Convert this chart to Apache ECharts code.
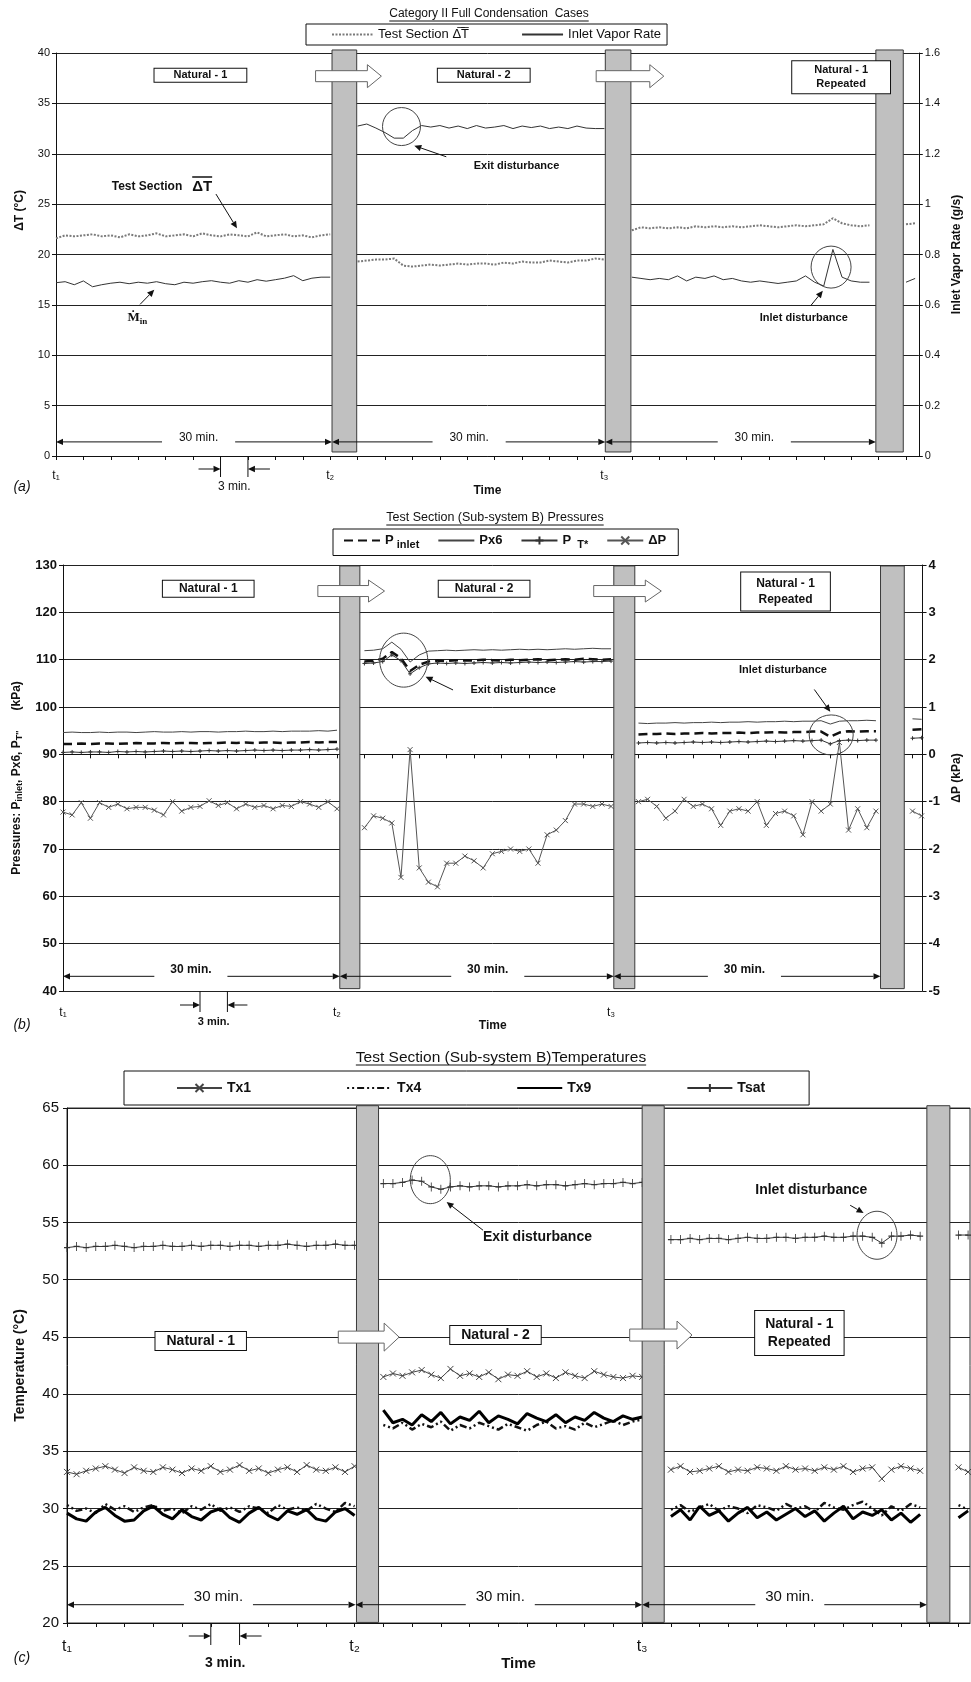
<!DOCTYPE html>
<html>
<head>
<meta charset="utf-8">
<title>Category II Full Condensation Cases</title>
<script src="https://cdn.jsdelivr.net/npm/echarts@6/dist/echarts.min.js"></script>
<style>
  html, body { margin: 0; padding: 0; background: #fff; }
  #chart { width: 971px; height: 1682px; }
</style>
</head>
<body>
<div id="chart"></div>
<script>
// ---- data (minutes from t1, one reading per minute; segments split by the transitions) ----
const segStart = [0, 33, 63, 93];
const markMinutes = [0, 30, 60];
const markNames = ['t₁', 't₂', 't₃'];

// gray transition bars [start, end] in minutes
const barsA = [[30.2, 32.9], [60.1, 62.9], [89.7, 92.7]];
const barsB = [[30.3, 32.5], [60.3, 62.6], [89.5, 92.1]];
const barsC = [[30.2, 32.5], [60.0, 62.3], [89.7, 92.1]];

// (a) test section dT (deg C) and inlet vapor rate (g/s)
const dTSegs = [
  [21.6,21.9,21.8,21.9,22.0,21.8,21.9,21.7,22.0,21.8,21.9,22.1,21.8,21.9,22.0,21.8,22.1,21.9,21.8,22.0,21.9,21.8,22.2,21.8,21.9,22.0,21.8,21.9,21.7,21.9,22.0],
  [19.3,19.4,19.5,19.5,19.6,18.9,18.8,18.9,19.0,18.9,19.0,19.1,19.0,19.1,19.1,19.0,19.2,19.1,19.3,19.2,19.2,19.4,19.3,19.2,19.4,19.4,19.6,19.5],
  [22.4,22.7,22.6,22.7,22.6,22.7,22.6,22.8,22.7,22.8,22.7,22.8,22.7,22.8,22.9,22.8,22.7,22.8,22.9,22.8,22.9,23.0,23.6,23.1,22.9,22.8,22.9],
  [23.0,23.1]
];
const vaporSegs = [
  [0.688,0.692,0.680,0.695,0.672,0.680,0.686,0.690,0.684,0.690,0.686,0.692,0.684,0.680,0.690,0.686,0.692,0.696,0.690,0.686,0.696,0.690,0.700,0.694,0.700,0.706,0.716,0.696,0.706,0.710,0.710],
  [1.310,1.318,1.302,1.284,1.262,1.262,1.292,1.312,1.306,1.312,1.302,1.310,1.300,1.312,1.302,1.306,1.312,1.300,1.310,1.304,1.310,1.300,1.306,1.300,1.310,1.302,1.300,1.300],
  [0.710,0.705,0.700,0.705,0.700,0.715,0.695,0.710,0.705,0.715,0.700,0.705,0.695,0.690,0.695,0.690,0.685,0.690,0.695,0.715,0.690,0.675,0.820,0.710,0.695,0.690,0.690],
  [0.690,0.705]
];

// (b) pressures (kPa) and dP (kPa)
const pInletSegs = [
  [92.2,92.2,92.3,92.2,92.3,92.3,92.2,92.3,92.4,92.3,92.3,92.4,92.3,92.4,92.4,92.3,92.4,92.4,92.5,92.4,92.5,92.4,92.5,92.5,92.4,92.5,92.5,92.6,92.5,92.6,92.6],
  [109.6,109.8,110.2,111.6,110.3,107.6,108.9,109.6,109.8,109.7,109.9,109.8,109.8,110.0,109.9,109.8,110.0,109.9,110.0,110.1,109.9,110.0,110.1,110.0,110.2,110.1,110.0,110.1],
  [94.2,94.3,94.3,94.4,94.3,94.4,94.4,94.5,94.4,94.5,94.5,94.6,94.5,94.6,94.6,94.7,94.6,94.7,94.7,94.8,94.8,93.7,94.6,94.9,94.8,94.9,94.9],
  [95.2,95.3]
];
const px6Segs = [
  [94.6,94.7,94.6,94.6,94.7,94.6,94.7,94.7,94.6,94.7,94.8,94.7,94.7,94.8,94.7,94.8,94.8,94.7,94.8,94.8,94.9,94.8,94.8,94.9,94.8,94.9,94.9,94.9,95.0,94.9,95.1],
  [111.9,112.0,112.3,113.7,112.2,109.5,111.0,111.8,111.9,112.0,111.9,112.0,112.1,112.0,112.1,112.0,112.1,112.2,112.1,112.2,112.1,112.2,112.3,112.2,112.3,112.4,112.3,112.3],
  [96.6,96.5,96.6,96.6,96.7,96.6,96.7,96.7,96.8,96.7,96.8,96.8,96.9,96.8,96.9,96.9,97.0,96.9,97.0,97.0,97.1,96.4,97.0,97.1,97.1,97.2,97.1],
  [97.5,97.4]
];
const pTSegs = [
  [90.4,90.5,90.4,90.5,90.5,90.4,90.6,90.5,90.6,90.5,90.6,90.7,90.6,90.7,90.6,90.7,90.8,90.7,90.8,90.7,90.8,90.9,90.8,90.9,90.8,90.9,90.9,91.0,90.9,91.0,91.1],
  [109.2,109.3,109.6,111.0,109.8,107.0,108.3,109.1,109.3,109.2,109.3,109.2,109.3,109.4,109.3,109.4,109.3,109.4,109.5,109.4,109.5,109.4,109.5,109.6,109.5,109.6,109.6,109.7],
  [92.4,92.5,92.4,92.5,92.4,92.5,92.6,92.5,92.6,92.5,92.6,92.7,92.6,92.7,92.8,92.7,92.8,92.9,92.8,92.9,93.0,92.2,92.9,93.0,92.9,93.0,93.0],
  [93.4,93.5]
];
const dPSegs = [
  [-1.22,-1.28,-1.02,-1.35,-1.02,-1.12,-1.05,-1.15,-1.12,-1.12,-1.18,-1.28,-1.00,-1.20,-1.12,-1.10,-0.98,-1.08,-1.02,-1.15,-1.05,-1.12,-1.08,-1.15,-1.08,-1.10,-1.00,-1.05,-1.12,-1.00,-1.15],
  [-1.55,-1.30,-1.35,-1.45,-2.60,0.10,-2.40,-2.70,-2.80,-2.30,-2.30,-2.15,-2.25,-2.40,-2.10,-2.05,-2.00,-2.05,-2.00,-2.30,-1.70,-1.60,-1.40,-1.05,-1.05,-1.10,-1.05,-1.10],
  [-1.00,-0.95,-1.10,-1.35,-1.20,-0.95,-1.10,-1.05,-1.15,-1.50,-1.20,-1.15,-1.20,-1.00,-1.50,-1.25,-1.20,-1.30,-1.70,-1.00,-1.20,-1.05,0.25,-1.60,-1.15,-1.55,-1.20],
  [-1.20,-1.30]
];

// (c) temperatures (deg C)
const tx1Segs = [
  [33.2,33.0,33.3,33.5,33.7,33.4,33.1,33.6,33.3,33.2,33.6,33.4,33.1,33.5,33.3,33.7,33.2,33.4,33.8,33.3,33.5,33.1,33.4,33.6,33.2,33.8,33.4,33.3,33.6,33.2,33.7],
  [41.5,41.8,41.6,41.9,42.1,41.7,41.4,42.2,41.6,41.8,41.5,41.9,41.3,41.7,41.6,42.0,41.5,41.8,41.4,41.9,41.6,41.4,42.0,41.7,41.5,41.4,41.6,41.5],
  [33.4,33.7,33.2,33.3,33.5,33.7,33.2,33.4,33.3,33.6,33.5,33.3,33.7,33.4,33.5,33.3,33.6,33.4,33.7,33.2,33.5,33.6,32.6,33.4,33.7,33.5,33.3],
  [33.6,33.2]
];
const tx4Segs = [
  [30.3,29.8,30.0,29.6,30.4,29.9,30.2,29.7,30.1,30.3,29.8,30.0,29.6,30.2,29.9,30.4,29.8,30.1,29.7,30.2,30.0,29.6,30.3,29.9,30.1,29.8,30.4,30.0,29.7,30.5,30.2],
  [37.3,37.0,37.5,36.9,37.4,37.1,37.6,36.8,37.3,37.0,37.5,37.2,36.9,37.4,37.1,36.8,37.3,37.6,37.0,37.2,36.9,37.5,37.1,37.4,37.7,37.3,37.6,37.8],
  [29.9,30.3,29.7,30.1,30.4,29.8,30.2,30.0,29.6,30.3,30.1,29.8,30.4,30.0,30.2,29.7,30.5,30.1,29.9,30.3,30.6,30.0,29.4,30.2,29.8,30.4,30.1],
  [30.3,29.9]
];
const tx9Segs = [
  [29.6,29.1,28.9,29.7,30.1,29.4,28.9,29.0,29.8,30.2,29.5,29.1,29.9,29.3,29.0,29.7,30.0,29.2,28.8,29.6,30.1,29.4,29.0,29.8,29.5,29.9,29.1,28.9,29.7,30.0,29.4],
  [38.6,37.5,37.8,37.3,38.2,37.6,38.4,37.4,38.0,37.7,38.5,37.5,38.1,37.8,37.4,38.3,37.9,37.6,38.2,37.5,38.0,37.7,38.4,37.9,37.6,38.1,37.8,38.0],
  [29.3,29.9,29.0,30.2,29.4,29.8,28.9,29.6,30.1,29.2,29.7,29.0,29.5,30.0,29.3,29.8,28.9,29.6,30.2,29.1,29.7,29.4,29.9,29.0,29.6,28.8,29.5],
  [29.2,29.8]
];
const tsatSegs = [
  [52.8,52.9,52.8,52.9,52.9,53.0,52.9,52.8,52.9,52.9,53.0,52.9,52.9,53.0,52.9,53.0,53.0,52.9,53.0,53.0,52.9,53.0,53.0,53.1,53.0,52.9,53.0,53.0,53.1,53.0,53.0],
  [58.4,58.4,58.5,58.7,58.6,58.1,57.9,58.1,58.2,58.1,58.2,58.2,58.1,58.2,58.2,58.3,58.2,58.3,58.3,58.2,58.3,58.4,58.3,58.4,58.4,58.5,58.4,58.5],
  [53.5,53.5,53.6,53.5,53.6,53.6,53.5,53.6,53.7,53.6,53.6,53.7,53.7,53.6,53.7,53.7,53.8,53.7,53.7,53.8,53.8,53.7,53.2,53.8,53.8,53.9,53.8],
  [53.9,53.9]
];

// ---- helpers ----
const FN = "'Liberation Sans Narrow', 'Liberation Sans', Arial, sans-serif";
const FS = "'Liberation Sans', Arial, Helvetica, sans-serif";
const INK = '#111';
const CROSS = 'path://M0,0L10,10M10,0L0,10';
const PLUS = 'path://M5,0L5,10M0,5L10,5';

// join segments, leaving a break under each transition bar
function build(segs) {
  const out = [];
  segs.forEach((s, k) => {
    if (k) out.push([segStart[k] - 1, null]);
    s.forEach((v, i) => out.push([segStart[k] + i, v]));
  });
  return out;
}

function timeAxis(gi, max, fontSize, margin, nameGap, nameSize) {
  return {
    type: 'value', gridIndex: gi, min: 0, max: max, interval: 3,
    axisLine: { lineStyle: { color: INK, width: 1 } },
    axisTick: { length: 4, lineStyle: { color: INK } },
    splitLine: { show: false },
    axisLabel: {
      showMaxLabel: false, margin: margin, color: INK, fontSize: fontSize, fontFamily: FS,
      formatter: (v) => { const k = markMinutes.indexOf(v); return k < 0 ? '' : markNames[k]; }
    },
    name: 'Time', nameLocation: 'middle', nameGap: nameGap,
    nameTextStyle: { color: INK, fontWeight: 'bold', fontSize: nameSize, fontFamily: FS }
  };
}

function valueAxis(gi, pos, min, max, interval, label, name, nameGap, split) {
  return {
    type: 'value', gridIndex: gi, position: pos, min: min, max: max, interval: interval,
    axisLine: { show: true, lineStyle: { color: INK, width: 1 } },
    axisTick: { show: true, length: 4, lineStyle: { color: INK } },
    axisLabel: Object.assign({ color: INK, fontFamily: FS, margin: 6 }, label),
    splitLine: { show: split, lineStyle: { color: '#222', width: 1 } },
    name: name, nameLocation: 'middle', nameGap: nameGap, nameRotate: 90,
    nameTextStyle: { color: INK, fontWeight: 'bold', fontSize: 12, fontFamily: FS }
  };
}

function barSeries(xi, yi, bars, lo, hi) {
  return {
    type: 'custom', xAxisIndex: xi, yAxisIndex: yi, z: 10, clip: false, silent: true,
    data: bars.map((b) => [b[0], b[1], lo, hi]),
    encode: { x: [0, 1], y: [2, 3] },
    renderItem: (params, api) => {
      const p0 = api.coord([api.value(0), api.value(3)]);
      const p1 = api.coord([api.value(1), api.value(2)]);
      return {
        type: 'rect',
        shape: { x: p0[0], y: p0[1], width: p1[0] - p0[0], height: p1[1] - p0[1] },
        style: { fill: '#c0c0c0', stroke: '#3a3a3a', lineWidth: 1 }
      };
    }
  };
}

function lineSeries(name, xi, yi, segs, lineStyle, sym) {
  const s = {
    name: name, type: 'line', xAxisIndex: xi, yAxisIndex: yi, data: build(segs),
    lineStyle: lineStyle, itemStyle: { color: lineStyle.color },
    symbol: 'none', animation: false, emphasis: { disabled: true }, z: 3
  };
  if (sym) {
    s.symbol = sym.symbol; s.symbolSize = sym.size; s.showSymbol = true;
    s.itemStyle = { color: lineStyle.color, borderColor: lineStyle.color, borderWidth: 1 };
  }
  return s;
}

// legend entry for a plain line: hide the marker, keep the line sample
const plain = (name) => ({ name: name, itemStyle: { opacity: 0 } });

const option = {
  animation: false,
  backgroundColor: '#fff',
  grid: [
    { left: 56, right: 43, top: 53, height: 403 },
    { left: 63, right: 38, top: 565, height: 426 },
    { left: 67, right: 1, top: 1108, height: 515, show: true, borderColor: '#333', borderWidth: 1 }
  ],
  xAxis: [
    timeAxis(0, 94.4, 12, 14, 29, 12),
    timeAxis(1, 94.1, 12, 16, 27, 12),
    timeAxis(2, 94.2, 16, 16, 31, 15)
  ],
  yAxis: [
    Object.assign(valueAxis(0, 'left', 0, 40, 5, { fontSize: 11 }, 'ΔT (°C)', 30, true), {
      nameTextStyle: { color: INK, fontWeight: 'bold', fontSize: 12, fontFamily: FS, padding: [0, 0, 0, 88] }
    }),
    valueAxis(0, 'right', 0, 1.6, 0.2, { fontSize: 11 }, 'Inlet Vapor Rate (g/s)', 30, false),
    Object.assign(valueAxis(1, 'left', 40, 130, 10, { fontSize: 13, fontWeight: 'bold' },
      '{a|Pressures: P}{s|inlet}{a|, Px6, P}{s|T\'\'}{a|      (kPa)}', 36, true), {
      nameTextStyle: { color: INK, fontWeight: 'bold', fontSize: 12, fontFamily: FS,
        rich: { a: { fontWeight: 'bold', fontSize: 12, fontFamily: FS },
                s: { fontWeight: 'bold', fontSize: 9, fontFamily: FS, padding: [7, 0, 0, 0] } } }
    }),
    valueAxis(1, 'right', -5, 4, 1, { fontSize: 13, fontWeight: 'bold' }, 'ΔP (kPa)', 26, false),
    Object.assign(valueAxis(2, 'left', 20, 65, 5, { fontSize: 15, margin: 8 }, 'Temperature (°C)', 40, true), {
      nameTextStyle: { color: INK, fontWeight: 'bold', fontSize: 14, fontFamily: FS }
    })
  ],
  legend: [
    {
      left: 306, top: 24, orient: 'horizontal', selectedMode: false,
      data: [plain('Test Section ΔT'), plain('Inlet Vapor Rate')],
      borderColor: INK, borderWidth: 1, padding: [4, 6, 4, 25], itemGap: 52,
      itemWidth: 41, itemHeight: 10,
      formatter: (n) => n === 'Test Section ΔT' ? 'Test Section Δ\u0305T\u0305' : n,
      textStyle: { fontFamily: FN, fontSize: 13, color: INK }
    },
    {
      left: 333, top: 529, orient: 'horizontal', selectedMode: false,
      data: [plain('P inlet'), plain('Px6'), 'P T*', 'ΔP'],
      borderColor: INK, borderWidth: 1, padding: [5, 12, 5, 10], itemGap: 18,
      itemWidth: 36, itemHeight: 10,
      formatter: (n) => ({ 'P inlet': '{b|P}{s| inlet}', 'Px6': '{b|Px6}', 'P T*': '{b|P}{s|  T*}', 'ΔP': '{b|ΔP}' })[n],
      textStyle: { fontFamily: FS, fontSize: 13, fontWeight: 'bold', color: INK,
        rich: { b: { fontFamily: FS, fontSize: 13, fontWeight: 'bold' },
                s: { fontFamily: FS, fontSize: 11, fontWeight: 'bold', padding: [9, 0, 0, 0] } } }
    },
    {
      left: 124, top: 1071, orient: 'horizontal', selectedMode: false,
      data: ['Tx1', plain('Tx4'), plain('Tx9'), 'Tsat'],
      borderColor: INK, borderWidth: 1, padding: [10, 44, 10, 52], itemGap: 95,
      itemWidth: 45, itemHeight: 10,
      textStyle: { fontFamily: FS, fontSize: 14, fontWeight: 'bold', color: INK }
    }
  ],
  series: [
    lineSeries('Test Section ΔT', 0, 0, dTSegs, { color: '#7a7a7a', width: 2, type: [2, 1.5] }),
    lineSeries('Inlet Vapor Rate', 0, 1, vaporSegs, { color: '#333', width: 1 }),
    barSeries(0, 0, barsA, 0.4, 40.3),

    lineSeries('P inlet', 1, 2, pInletSegs, { color: '#111', width: 2.5, type: [9, 5] }),
    lineSeries('Px6', 1, 2, px6Segs, { color: '#444', width: 1 }),
    lineSeries('P T*', 1, 2, pTSegs, { color: '#333', width: 1 }, { symbol: PLUS, size: 4 }),
    lineSeries('ΔP', 1, 3, dPSegs, { color: '#555', width: 1 }, { symbol: CROSS, size: 5 }),
    barSeries(1, 2, barsB, 40.5, 129.8),

    lineSeries('Tx1', 2, 4, tx1Segs, { color: '#444', width: 1 }, { symbol: CROSS, size: 6 }),
    lineSeries('Tx4', 2, 4, tx4Segs, { color: '#111', width: 2.5, type: [2, 3, 2, 3, 7, 3] }),
    lineSeries('Tx9', 2, 4, tx9Segs, { color: '#000', width: 3 }),
    lineSeries('Tsat', 2, 4, tsatSegs, { color: '#333', width: 1 }, { symbol: PLUS, size: [6, 9] }),
    barSeries(2, 4, barsC, 20.05, 65.2)
  ]
};

const chart = echarts.init(document.getElementById('chart'));
chart.setOption(option);

// ---- annotations, placed in data coordinates ----
const G = [];
const axesOf = [[0, 0], [1, 2], [2, 4]];
function P(panel, x, y) {
  return chart.convertToPixel({ xAxisIndex: axesOf[panel][0], yAxisIndex: axesOf[panel][1] }, [x, y]);
}
const mctx = document.createElement('canvas').getContext('2d');
function textW(str, font) { mctx.font = font; return mctx.measureText(str).width; }

function seg(a, b, w, color) {
  G.push({ type: 'line', z: 100, shape: { x1: a[0], y1: a[1], x2: b[0], y2: b[1] },
    style: { stroke: color || INK, lineWidth: w || 1 } });
}
function arrow(a, b, len, hw) {
  len = len || 7; hw = hw || 3.2;
  const dx = b[0] - a[0], dy = b[1] - a[1], L = Math.hypot(dx, dy), ux = dx / L, uy = dy / L;
  const bx = b[0] - ux * len, by = b[1] - uy * len;
  seg(a, [bx, by]);
  G.push({ type: 'polygon', z: 100,
    shape: { points: [[b[0], b[1]], [bx - uy * hw, by + ux * hw], [bx + uy * hw, by - ux * hw]] },
    style: { fill: INK } });
}
function label(str, p, font, align) {
  G.push({ type: 'text', z: 101, x: p[0], y: p[1],
    style: { text: str, font: font, fill: INK, align: align || 'center', verticalAlign: 'middle' } });
}
function box(str, p, font, pad, lh) {
  G.push({ type: 'text', z: 101, x: p[0], y: p[1],
    style: { text: str, font: font, fill: INK, align: 'center', verticalAlign: 'middle', lineHeight: lh,
      backgroundColor: '#fff', borderColor: INK, borderWidth: 1, padding: pad } });
}
function blockArrow(a, b, bh, hh, hl) {
  const y = a[1], x0 = a[0], x1 = b[0];
  G.push({ type: 'polygon', z: 100,
    shape: { points: [[x0, y - bh], [x1 - hl, y - bh], [x1 - hl, y - hh], [x1, y], [x1 - hl, y + hh], [x1 - hl, y + bh], [x0, y + bh]] },
    style: { fill: '#fff', stroke: '#666', lineWidth: 1 } });
}
function ring(p, rx, ry) {
  G.push({ type: 'ellipse', z: 100, shape: { cx: p[0], cy: p[1], rx: rx, ry: ry },
    style: { fill: 'none', stroke: '#444', lineWidth: 1 } });
}
function spans(panel, list, y, font, dy, half) {
  list.forEach((s) => {
    const a = P(panel, s[0], y), b = P(panel, s[1], y);
    const l = P(panel, s[2] - half, y), r = P(panel, s[2] + half, y), t = P(panel, s[2], y);
    arrow(l, a); arrow(r, b);
    label('30 min.', [t[0], t[1] - dy], font);
  });
}
function threeMin(panel, m0, m1, ymin, font, lineLen, arrowDy, textDy, arrowLen) {
  const a = P(panel, m0, ymin), b = P(panel, m1, ymin);
  seg(a, [a[0], a[1] + lineLen]); seg(b, [b[0], b[1] + lineLen]);
  arrow([a[0] - arrowLen, a[1] + arrowDy], [a[0], a[1] + arrowDy]);
  arrow([b[0] + arrowLen, b[1] + arrowDy], [b[0], b[1] + arrowDy]);
  label('3 min.', [(a[0] + b[0]) / 2, a[1] + textDy], font);
}
function title(str, cx, y, font) {
  const w = textW(str, font);
  label(str, [cx, y], font);
  seg([cx - w / 2, y + 7], [cx + w / 2, y + 7], 1);
}

// titles and panel letters
title('Category II Full Condensation  Cases', 489, 14, '12px ' + FN);
title('Test Section (Sub-system B) Pressures', 495, 518, '12.5px ' + FN);
title('Test Section (Sub-system B)Temperatures', 501, 1058, '15.5px ' + FN);
label('(a)', [22, 487], 'italic 14px ' + FS);
label('(b)', [22, 1025], 'italic 14px ' + FS);
label('(c)', [22, 1658], 'italic 14px ' + FS);

// panel (a)
const fa = 'bold 11px ' + FS;
box('Natural - 1', P(0, 15.8, 37.8), fa, [1, 19]);
box('Natural - 2', P(0, 46.8, 37.8), fa, [1, 19]);
box('Natural - 1\nRepeated', P(0, 85.9, 37.6), fa, [2, 22], 14);
blockArrow(P(0, 28.4, 37.7), P(0, 35.6, 37.7), 5.5, 11.5, 14);
blockArrow(P(0, 59.1, 37.7), P(0, 66.5, 37.7), 5.5, 11.5, 14);
ring(P(0, 37.8, 32.7), 19, 19);
label('Exit disturbance', P(0, 45.7, 28.8), fa, 'left');
arrow(P(0, 42.7, 29.7), P(0, 39.2, 30.8));
ring(P(0, 84.8, 18.75), 20, 21);
label('Inlet disturbance', P(0, 77.0, 13.7), fa, 'left');
arrow(P(0, 82.6, 14.95), P(0, 83.9, 16.4));
(function () {
  const p = P(0, 6.1, 26.7), f1 = 'bold 12px ' + FS, f2 = 'bold 15px ' + FS;
  label('Test Section', p, f1, 'left');
  const x2 = p[0] + textW('Test Section', f1) + 10;
  label('ΔT', [x2, p[1]], f2, 'left');
  seg([x2, p[1] - 10], [x2 + textW('ΔT', f2), p[1] - 10], 1.5);
  arrow(P(0, 17.5, 26.0), P(0, 19.8, 22.6));
  const m = P(0, 8.9, 13.7);
  G.push({ type: 'text', z: 101, x: m[0], y: m[1],
    style: { text: '{m|Ṁ}{s|in}', align: 'center', verticalAlign: 'middle', fill: INK,
      rich: { m: { font: 'bold 13px "Liberation Serif", serif' }, s: { font: 'bold 9px "Liberation Serif", serif', padding: [7, 0, 0, 0] } } } });
  arrow(P(0, 9.2, 15.05), P(0, 10.75, 16.5));
})();
spans(0, [[0, 30.2, 15.6], [30.2, 60.1, 45.2], [60.1, 89.7, 76.4]], 1.4, '12px ' + FS, 4, 4.0);
threeMin(0, 18, 21, 0, '12px ' + FN, 21, 13, 31, 22);

// panel (b)
const fb = 'bold 12px ' + FS;
box('Natural - 1', P(1, 15.9, 125.0), fb, [2, 16]);
box('Natural - 2', P(1, 46.1, 125.0), fb, [2, 16]);
box('Natural - 1\nRepeated', P(1, 79.1, 124.4), fb, [3, 15], 16);
blockArrow(P(1, 27.9, 124.5), P(1, 35.2, 124.5), 5.5, 11, 16);
blockArrow(P(1, 58.1, 124.5), P(1, 65.5, 124.5), 5.5, 11, 16);
ring(P(1, 37.3, 109.9), 24, 27);
label('Exit disturbance', P(1, 44.6, 103.6), 'bold 11px ' + FS, 'left');
arrow(P(1, 42.7, 103.6), P(1, 39.7, 106.4));
ring(P(1, 84.1, 94.1), 22, 20);
label('Inlet disturbance', P(1, 74.0, 107.8), 'bold 11px ' + FS, 'left');
arrow(P(1, 82.25, 103.7), P(1, 84.0, 99.0));
spans(1, [[0, 30.3, 14.0], [30.3, 60.3, 46.5], [60.3, 89.5, 74.6]], 43.1, 'bold 12px ' + FS, 7, 4.0);
threeMin(1, 15, 18, 40, 'bold 11px ' + FN, 21, 14, 31, 20);

// panel (c)
const fc = 'bold 14px ' + FS;
box('Natural - 1', P(2, 13.95, 44.63), fc, [2, 11]);
box('Natural - 2', P(2, 44.7, 45.16), fc, [2, 11]);
box('Natural - 1\nRepeated', P(2, 76.4, 45.33), fc, [4, 10], 18);
blockArrow(P(2, 28.3, 44.98), P(2, 34.65, 44.98), 6, 14, 15);
blockArrow(P(2, 58.7, 45.16), P(2, 65.2, 45.16), 6, 14, 15);
ring(P(2, 37.9, 58.74), 20, 24);
label('Exit disturbance', P(2, 43.4, 53.68), fc, 'left');
arrow(P(2, 43.4, 54.32), P(2, 39.6, 56.79));
ring(P(2, 84.5, 53.88), 20, 24);
label('Inlet disturbance', P(2, 71.8, 57.8), fc, 'left');
arrow(P(2, 81.7, 56.5), P(2, 83.1, 55.83));
spans(2, [[0, 30.1, 15.8], [30.1, 60.0, 45.2], [60.0, 89.7, 75.4]], 21.6, '15px ' + FS, 8, 3.6);
threeMin(2, 15, 18, 20, 'bold 14px ' + FS, 22, 13, 40, 22);

chart.setOption({ graphic: G });
</script>
</body>
</html>
